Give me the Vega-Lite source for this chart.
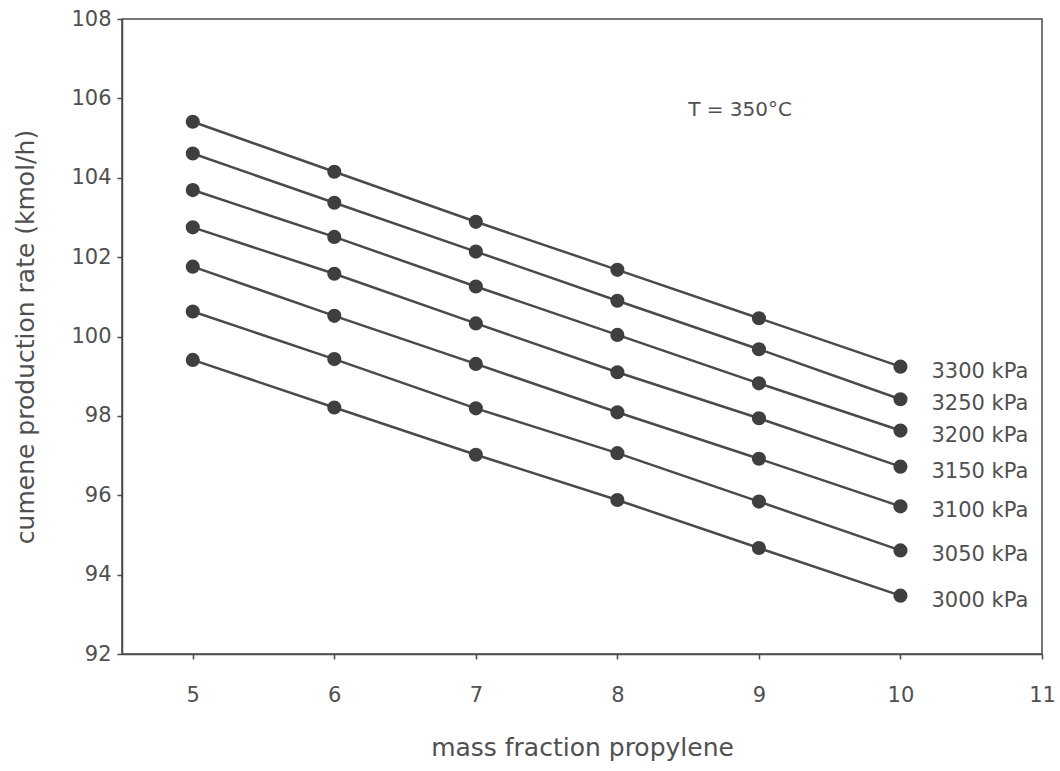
{
  "$schema": "https://vega.github.io/schema/vega-lite/v6.json",
  "autosize": {"type": "none"},
  "padding": {"left": 122, "top": 19, "right": 18, "bottom": 117},
  "width": 920,
  "height": 635,
  "background": "white",
  "config": {
    "view": {"stroke": "#4a4a4a", "strokeWidth": 1.5},
    "font": "DejaVu Sans",
    "axis": {
      "grid": false,
      "domainColor": "#4a4a4a",
      "domainWidth": 1.5,
      "tickColor": "#4a4a4a",
      "tickWidth": 1.5,
      "tickSize": 5,
      "labelFlush": false,
      "labelFont": "DejaVu Sans",
      "labelFontSize": 21,
      "labelColor": "#505050",
      "titleFont": "DejaVu Sans",
      "titleFontSize": 25,
      "titleFontWeight": "normal",
      "titleColor": "#505050"
    }
  },
  "data": {
    "values": [
      {"pressure": "3300 kPa", "x": 5, "y": 105.41},
      {"pressure": "3300 kPa", "x": 6, "y": 104.15},
      {"pressure": "3300 kPa", "x": 7, "y": 102.89},
      {"pressure": "3300 kPa", "x": 8, "y": 101.68},
      {"pressure": "3300 kPa", "x": 9, "y": 100.46},
      {"pressure": "3300 kPa", "x": 10, "y": 99.24},
      {"pressure": "3250 kPa", "x": 5, "y": 104.61},
      {"pressure": "3250 kPa", "x": 6, "y": 103.37},
      {"pressure": "3250 kPa", "x": 7, "y": 102.14},
      {"pressure": "3250 kPa", "x": 8, "y": 100.9},
      {"pressure": "3250 kPa", "x": 9, "y": 99.68},
      {"pressure": "3250 kPa", "x": 10, "y": 98.42},
      {"pressure": "3200 kPa", "x": 5, "y": 103.69},
      {"pressure": "3200 kPa", "x": 6, "y": 102.51},
      {"pressure": "3200 kPa", "x": 7, "y": 101.26},
      {"pressure": "3200 kPa", "x": 8, "y": 100.04},
      {"pressure": "3200 kPa", "x": 9, "y": 98.82},
      {"pressure": "3200 kPa", "x": 10, "y": 97.63},
      {"pressure": "3150 kPa", "x": 5, "y": 102.75},
      {"pressure": "3150 kPa", "x": 6, "y": 101.58},
      {"pressure": "3150 kPa", "x": 7, "y": 100.33},
      {"pressure": "3150 kPa", "x": 8, "y": 99.1},
      {"pressure": "3150 kPa", "x": 9, "y": 97.94},
      {"pressure": "3150 kPa", "x": 10, "y": 96.72},
      {"pressure": "3100 kPa", "x": 5, "y": 101.76},
      {"pressure": "3100 kPa", "x": 6, "y": 100.52},
      {"pressure": "3100 kPa", "x": 7, "y": 99.31},
      {"pressure": "3100 kPa", "x": 8, "y": 98.09},
      {"pressure": "3100 kPa", "x": 9, "y": 96.92},
      {"pressure": "3100 kPa", "x": 10, "y": 95.72},
      {"pressure": "3050 kPa", "x": 5, "y": 100.63},
      {"pressure": "3050 kPa", "x": 6, "y": 99.43},
      {"pressure": "3050 kPa", "x": 7, "y": 98.19},
      {"pressure": "3050 kPa", "x": 8, "y": 97.06},
      {"pressure": "3050 kPa", "x": 9, "y": 95.84},
      {"pressure": "3050 kPa", "x": 10, "y": 94.61},
      {"pressure": "3000 kPa", "x": 5, "y": 99.41},
      {"pressure": "3000 kPa", "x": 6, "y": 98.21},
      {"pressure": "3000 kPa", "x": 7, "y": 97.02},
      {"pressure": "3000 kPa", "x": 8, "y": 95.88},
      {"pressure": "3000 kPa", "x": 9, "y": 94.67},
      {"pressure": "3000 kPa", "x": 10, "y": 93.47}
    ]
  },
  "encoding": {
    "x": {
      "field": "x",
      "type": "quantitative",
      "scale": {"domain": [4.5, 11], "nice": false, "zero": false},
      "axis": {"values": [5, 6, 7, 8, 9, 10, 11], "title": "mass fraction propylene", "labelPadding": 25, "titlePadding": 30}
    },
    "y": {
      "field": "y",
      "type": "quantitative",
      "scale": {"domain": [92, 108], "nice": false, "zero": false},
      "axis": {"values": [92, 94, 96, 98, 100, 102, 104, 106, 108], "title": "cumene production rate (kmol/h)", "labelPadding": 6, "titlePadding": 32}
    }
  },
  "layer": [
    {
      "mark": {"type": "line", "color": "#4a4a4a", "strokeWidth": 2.5},
      "encoding": {"detail": {"field": "pressure"}}
    },
    {
      "mark": {"type": "point", "filled": true, "shape": "circle", "size": 200, "color": "#3f3f3f", "opacity": 1}
    },
    {
      "transform": [{"filter": "datum.x == 10"}],
      "mark": {"type": "text", "align": "left", "baseline": "middle", "dx": 31, "dy": 5, "fontSize": 21, "color": "#505050", "font": "DejaVu Sans"},
      "encoding": {"text": {"field": "pressure"}}
    },
    {
      "transform": [{"filter": "datum.x == 5 && datum.pressure == '3300 kPa'"}],
      "mark": {"type": "text", "align": "left", "baseline": "middle", "fontSize": 20, "color": "#505050", "font": "DejaVu Sans"},
      "encoding": {
        "x": {"datum": 8.5},
        "y": {"datum": 105.7},
        "text": {"value": "T = 350°C"}
      }
    }
  ]
}
